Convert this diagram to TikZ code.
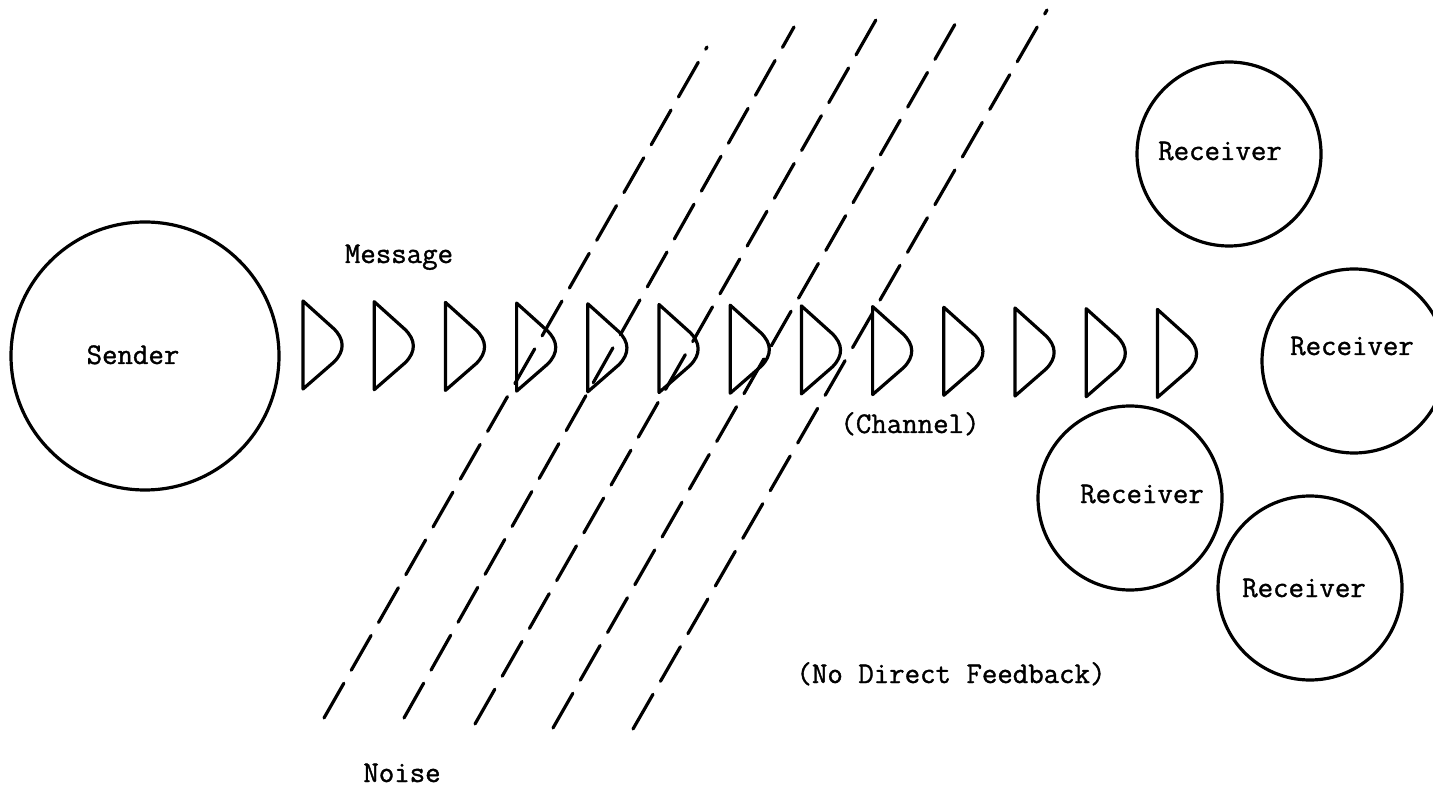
\documentclass[tikz,border=0pt]{standalone}
\usepackage{fontspec}
\newfontfamily\typewriter{Latin Modern Mono}[FakeBold=1.2]
\begin{document}
\begin{tikzpicture}[x=0.5pt,y=-0.5pt,line width=1.6pt,line join=round,
  party/.style={circle,draw,inner sep=0pt},
  sendercircle/.style={party,minimum size=134pt},
  receivercircle/.style={party,minimum size=92pt},
  tlabel/.style={font=\fontsize{15}{18}\selectfont\typewriter,inner sep=0pt,anchor=base},
  noiseline/.style={dash pattern=on 20pt off 7.5pt,line cap=round},
  pulse/.pic={\draw (0,0) -- (30,27) .. controls (42,38) and (42,50) .. (31,61) -- (0,88) -- cycle;}
]
\useasboundingbox (0,0) rectangle (1433,790);

% sender and receivers
\node[sendercircle] (sender) at (145,356) {};
\node[receivercircle] (recA) at (1229,154) {};
\node[receivercircle] (recB) at (1354,361) {};
\node[receivercircle] (recC) at (1130,498) {};
\node[receivercircle] (recD) at (1310,588) {};

\node[tlabel] (senderT) at (133,364) {Sender};
\node[tlabel] (recAT) at (1220,160) {Receiver};
\node[tlabel] (recBT) at (1352,355) {Receiver};
\node[tlabel] (recCT) at (1142,503) {Receiver};
\node[tlabel] (recDT) at (1304,597) {Receiver};

% the message as a train of pulses along the channel
\foreach \i in {0,...,12}
  \pic at ({303+71.2*\i},{301+0.7*\i}) {pulse};

% noise crossing the channel
\draw[noiseline] (324,718) -- (707,47);
\draw[noiseline] (404,718) -- (794,27);
\draw[noiseline] (475,724) -- (881,11);
\draw[noiseline] (553,728) -- (962,12);
\draw[noiseline] (633,729) -- (1047,10);

% captions
\node[tlabel] (message) at (399,263) {Message};
\node[tlabel] (channel) at (910,433) {(Channel)};
\node[tlabel] (feedback) at (951,683) {(No Direct Feedback)};
\node[tlabel] (noise) at (402,782) {Noise};
\end{tikzpicture}
\end{document}
